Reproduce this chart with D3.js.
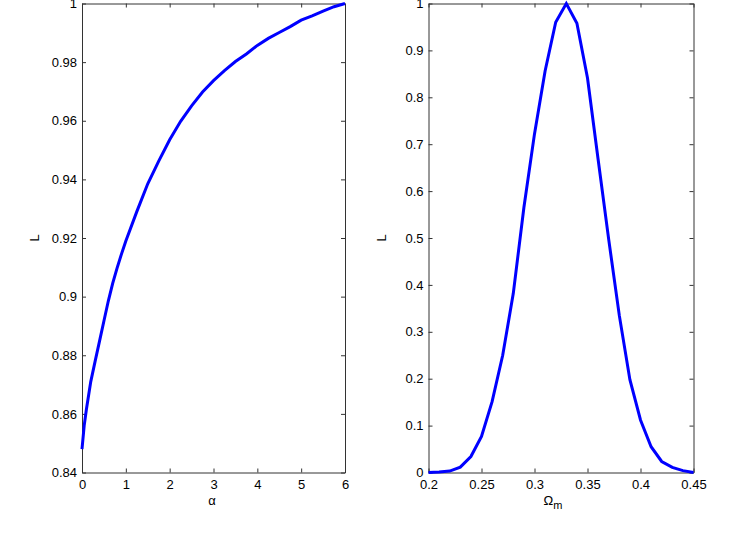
<!DOCTYPE html>
<html>
<head>
<meta charset="utf-8">
<script src="https://cdn.jsdelivr.net/npm/d3@7"></script>
<style>
  body { margin: 0; background: #fff; }
  svg text { font-family: "Liberation Sans", Arial, sans-serif; font-size: 13px; fill: #000; }
  .domain { stroke: #333; }
  .tick line { stroke: #333; }
</style>
</head>
<body>
<div id="chart"></div>
<script>
// left panel: L vs alpha
var alpha = [0, 0.05, 0.1, 0.2, 0.3, 0.4, 0.5, 0.6, 0.7, 0.8, 0.9, 1.0,
  1.25, 1.5, 1.75, 2, 2.25, 2.5, 2.75, 3, 3.25, 3.5, 3.75, 4, 4.25, 4.5,
  4.75, 5, 5.25, 5.5, 5.75, 6];
var Lalpha = [0.848, 0.856, 0.8615, 0.871, 0.878, 0.8848, 0.8917, 0.8985, 0.9045,
  0.9097, 0.9145, 0.919, 0.929, 0.9385, 0.9462, 0.9535, 0.9598, 0.9651, 0.9698,
  0.9737, 0.9771, 0.9802, 0.9828, 0.9857, 0.9881, 0.9901, 0.9921, 0.9943,
  0.9958, 0.9974, 0.9989, 1.0];
var alphaTicks = [0, 1, 2, 3, 4, 5, 6];
var LalphaTicks = [0.84, 0.86, 0.88, 0.9, 0.92, 0.94, 0.96, 0.98, 1];

// right panel: L vs Omega_m
var omega = [0.20, 0.21, 0.22, 0.23, 0.24, 0.25, 0.26, 0.27, 0.28, 0.29, 0.30,
  0.31, 0.32, 0.33, 0.34, 0.35, 0.36, 0.37, 0.38, 0.39, 0.40, 0.41, 0.42,
  0.43, 0.44, 0.45];
var Lomega = [0.0, 0.001, 0.003, 0.0115, 0.034, 0.077, 0.151, 0.25, 0.382, 0.565,
  0.722, 0.856, 0.96, 1.0, 0.958, 0.841, 0.668, 0.497, 0.335, 0.198, 0.112,
  0.055, 0.0235, 0.011, 0.004, 0.0];
var omegaTicks = [0.2, 0.25, 0.3, 0.35, 0.4, 0.45];
var LomegaTicks = [0, 0.1, 0.2, 0.3, 0.4, 0.5, 0.6, 0.7, 0.8, 0.9, 1];

var W = 748, H = 548;
var svg = d3.select("#chart").append("svg")
    .attr("width", W)
    .attr("height", H);

function panel(opts) {
  var x = d3.scaleLinear().domain(opts.xdom).range([opts.left, opts.right]);
  var y = d3.scaleLinear().domain(opts.ydom).range([opts.bottom, opts.top]);
  var g = svg.append("g");

  // box + inward ticks on all four sides
  g.append("g")
      .attr("transform", "translate(0," + opts.bottom + ")")
      .call(d3.axisBottom(x).tickValues(opts.xticks).tickSizeInner(-4).tickSizeOuter(0)
        .tickPadding(7).tickFormat(opts.xfmt));
  g.append("g")
      .attr("transform", "translate(0," + opts.top + ")")
      .call(d3.axisTop(x).tickValues(opts.xticks).tickSizeInner(-4).tickSizeOuter(0)
        .tickFormat(""));
  g.append("g")
      .attr("transform", "translate(" + opts.left + ",0)")
      .call(d3.axisLeft(y).tickValues(opts.yticks).tickSizeInner(-4).tickSizeOuter(0)
        .tickPadding(5).tickFormat(opts.yfmt));
  g.append("g")
      .attr("transform", "translate(" + opts.right + ",0)")
      .call(d3.axisRight(y).tickValues(opts.yticks).tickSizeInner(-4).tickSizeOuter(0)
        .tickFormat(""));

  g.selectAll(".tick text").style("font-size", "13px").attr("fill", "#000");

  var line = d3.line()
      .x(function(d) { return x(d[0]); })
      .y(function(d) { return y(d[1]); });

  g.append("path")
      .datum(opts.xs.map(function(v, i) { return [v, opts.ys[i]]; }))
      .attr("d", line)
      .attr("fill", "none")
      .attr("stroke", "#0000ff")
      .attr("stroke-width", 3)
      .attr("stroke-linejoin", "miter");

  // y label
  g.append("text")
      .attr("transform", "translate(" + (opts.left - 43) + "," + ((opts.top + opts.bottom) / 2) + ") rotate(-90)")
      .attr("text-anchor", "middle")
      .text("L");

  return g;
}

var left = panel({
  left: 82, right: 345, top: 3.5, bottom: 472.5,
  xdom: [0, 6], ydom: [0.84, 1],
  xticks: alphaTicks, yticks: LalphaTicks,
  xfmt: d3.format("d"), yfmt: function(d) { return d === 1 ? "1" : d3.format(".2f")(d).replace(/0$/, ""); },
  xs: alpha, ys: Lalpha
});
left.append("text")
    .attr("x", 212)
    .attr("y", 505)
    .attr("text-anchor", "middle")
    .text("\u03b1");

var right = panel({
  left: 428.5, right: 693.5, top: 3.5, bottom: 472.5,
  xdom: [0.2, 0.45], ydom: [0, 1],
  xticks: omegaTicks, yticks: LomegaTicks,
  xfmt: function(d) { return String(+d.toFixed(2)); },
  yfmt: function(d) { return String(+d.toFixed(1)); },
  xs: omega, ys: Lomega
});
var om = right.append("text")
    .attr("x", 553)
    .attr("y", 505)
    .attr("text-anchor", "middle");
om.append("tspan").text("\u03a9");
om.append("tspan").attr("dy", 4).style("font-size", "11px").text("m");
</script>
</body>
</html>
